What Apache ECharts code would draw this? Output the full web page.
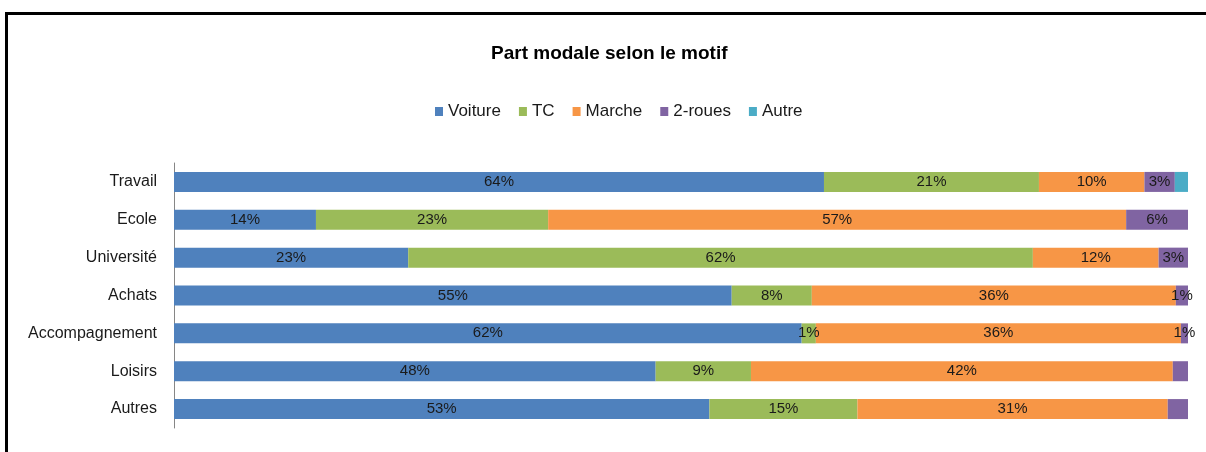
<!DOCTYPE html>
<html>
<head>
<meta charset="utf-8">
<script src="https://cdn.jsdelivr.net/npm/echarts@6/dist/echarts.min.js"></script>
<style>
  html, body { margin: 0; padding: 0; background: #fff; }
  #chart { position: absolute; left: 0; top: 0; width: 1206px; height: 452px; }
  #frameTop { position: absolute; left: 5px; top: 12px; width: 1201px; height: 3px; background: #000; }
  #frameLeft { position: absolute; left: 5px; top: 12px; width: 3px; height: 440px; background: #000; }
</style>
</head>
<body>
<div id="chart"></div>
<div id="frameTop"></div>
<div id="frameLeft"></div>
<script>
const categories = ['Travail', 'Ecole', 'Université', 'Achats', 'Accompagnement', 'Loisirs', 'Autres'];
const seriesNames = ['Voiture', 'TC', 'Marche', '2-roues', 'Autre'];
const voiture = [64.1, 14.0, 23.1, 55.0, 61.9, 47.5, 52.8];
const tc      = [21.2, 22.9, 61.6, 7.9, 1.4, 9.4, 14.6];
const marche  = [10.4, 57.0, 12.4, 35.9, 36.0, 41.6, 30.6];
const deuxRoues = [3.0, 6.1, 2.9, 1.2, 0.7, 1.5, 2.0];
const autre   = [1.3, 0, 0, 0, 0, 0, 0];
const hiddenLabels = [['2-roues', 'Loisirs'], ['2-roues', 'Autres'], ['Autre', 'Travail']];
const colors = ['#4F81BD', '#9BBB59', '#F79646', '#8064A2', '#4BACC6'];

const FONT = "'Liberation Sans', Arial, sans-serif";
const values = [voiture, tc, marche, deuxRoues, autre];

const series = seriesNames.map((name, si) => ({
  name: name,
  type: 'bar',
  stack: 'total',
  barWidth: 20,
  itemStyle: { color: colors[si] },
  label: { show: true, position: 'inside', color: '#1a1a1a', fontFamily: FONT, fontSize: 15,
           formatter: p => Math.round(p.value) + '%' },
  data: values[si].map((v, ci) => {
    const hide = v === 0 || hiddenLabels.some(h => h[0] === name && h[1] === categories[ci]);
    return hide ? { value: v, label: { show: false } } : v;
  })
}));

const chart = echarts.init(document.getElementById('chart'));
chart.setOption({
  animation: false,
  backgroundColor: '#fff',
  color: colors,
  title: {
    text: 'Part modale selon le motif',
    left: 491, top: 44, padding: 0,
    textStyle: { fontFamily: FONT, fontSize: 19, fontWeight: 'bold', color: '#000' }
  },
  legend: {
    data: seriesNames,
    top: 98, left: 430,
    icon: 'rect', itemWidth: 8, itemHeight: 9, itemGap: 18,
    textStyle: { fontFamily: FONT, fontSize: 17, color: '#1a1a1a' }
  },
  grid: { left: 174, right: 18, top: 163, bottom: 24, containLabel: false, outerBoundsMode: 'none' },
  xAxis: { type: 'value', min: 0, max: 100, show: false },
  yAxis: {
    type: 'category', data: categories, inverse: true,
    axisLine: { show: true, lineStyle: { color: '#868686', width: 1 } },
    axisTick: { show: false },
    axisLabel: { fontFamily: FONT, fontSize: 16, color: '#1a1a1a', margin: 17 }
  },
  series: series
});
</script>
</body>
</html>
